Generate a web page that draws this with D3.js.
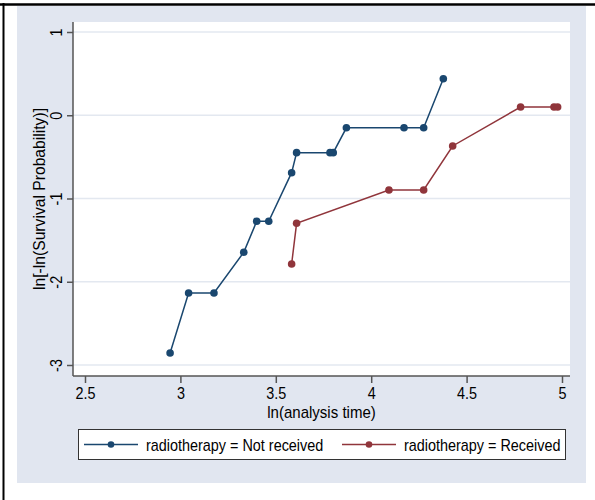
<!DOCTYPE html>
<html>
<head>
<meta charset="utf-8">
<script src="https://cdn.jsdelivr.net/npm/d3@7"></script>
<style>
  body { margin: 0; background: #fff; }
  text { font-family: "Liberation Sans", Arial, sans-serif; fill: #000; }
</style>
</head>
<body>
<div id="chart"></div>
<script>
// data
var xTicks = [2.5, 3, 3.5, 4, 4.5, 5];
var yTicks = [-3, -2, -1, 0, 1];

var notReceivedX = [2.946, 3.043, 3.176, 3.332, 3.400, 3.463, 3.583, 3.609, 3.784, 3.801, 3.870, 4.172, 4.275, 4.378];
var notReceivedY = [-2.856, -2.135, -2.135, -1.646, -1.274, -1.274, -0.690, -0.449, -0.449, -0.449, -0.151, -0.151, -0.151, 0.439];

var receivedX = [3.583, 3.609, 4.093, 4.275, 4.427, 4.783, 4.958, 4.977];
var receivedY = [-1.787, -1.298, -0.898, -0.898, -0.369, 0.099, 0.099, 0.099];

var seriesNames = ["radiotherapy = Not received", "radiotherapy = Received"];
var seriesColors = ["#1a476f", "#90353b"];

var W = 595, H = 500;
var plot = {left: 73, right: 570, top: 22, bottom: 376};
var fontSize = 16;

var svg = d3.select("#chart").append("svg")
    .attr("width", W)
    .attr("height", H);

// outer frame bits
svg.append("rect").attr("x", 17).attr("y", 6).attr("width", 569).attr("height", 477)
    .attr("fill", "#e1e6f0");
svg.append("line").attr("x1", 0).attr("x2", W).attr("y1", 4.5).attr("y2", 4.5)
    .attr("stroke", "#000").attr("stroke-width", 2.5);
svg.append("line").attr("x1", 3.5).attr("x2", 3.5).attr("y1", 3).attr("y2", H)
    .attr("stroke", "#000").attr("stroke-width", 2);

// plot region
svg.append("rect").attr("x", plot.left).attr("y", plot.top)
    .attr("width", plot.right - plot.left).attr("height", plot.bottom - plot.top)
    .attr("fill", "#fff");

var x = d3.scaleLinear().domain([2.5, 5]).range([85, 562]);
var y = d3.scaleLinear().domain([-3, 1]).range([365, 32]);

// gridlines
svg.append("g").selectAll("line")
    .data(yTicks)
    .enter().append("line")
    .attr("x1", plot.left).attr("x2", plot.right)
    .attr("y1", function(d) { return y(d); })
    .attr("y2", function(d) { return y(d); })
    .attr("stroke", "#e3e8f0")
    .attr("stroke-width", 1.5);

// axes (plain hyphen for negatives, like Stata)
var fmt = function(d) { return String(d); };

var xAxis = svg.append("g")
    .attr("transform", "translate(0," + plot.bottom + ")")
    .call(d3.axisBottom(x).tickValues(xTicks).tickSize(7).tickPadding(5).tickFormat(fmt));
xAxis.select(".domain").attr("d", "M" + plot.left + ",0H" + plot.right);
xAxis.selectAll("line, path").attr("stroke", "#555").attr("stroke-width", 1.5);
xAxis.selectAll("text")
    .attr("font-size", fontSize).attr("font-family", "Liberation Sans, Arial, sans-serif").attr("fill", "#000")
    .attr("transform", "scale(0.9,1)");

var yAxis = svg.append("g")
    .attr("transform", "translate(" + plot.left + ",0)")
    .call(d3.axisLeft(y).tickValues(yTicks).tickSize(6).tickPadding(0).tickFormat(fmt));
yAxis.select(".domain").attr("d", "M0," + plot.top + "V" + plot.bottom);
yAxis.selectAll("line, path").attr("stroke", "#555").attr("stroke-width", 1.5);
yAxis.selectAll("text")
    .attr("font-size", fontSize).attr("font-family", "Liberation Sans, Arial, sans-serif").attr("fill", "#000")
    .attr("x", 0).attr("dy", null)
    .attr("text-anchor", "middle")
    .attr("transform", "translate(-11,0) rotate(-90) scale(0.9,1)");

// axis titles
svg.append("text")
    .attr("transform", "translate(" + ((plot.left + plot.right) / 2) + ",418) scale(0.94,1)")
    .attr("text-anchor", "middle")
    .attr("font-size", fontSize)
    .text("ln(analysis time)");

svg.append("text")
    .attr("transform", "translate(45," + ((plot.top + plot.bottom) / 2) + ") rotate(-90) scale(0.98,1)")
    .attr("text-anchor", "middle")
    .attr("font-size", fontSize)
    .text("ln[-ln(Survival Probability)]");

// series
var series = [
  {x: notReceivedX, y: notReceivedY},
  {x: receivedX, y: receivedY}
];

var line = d3.line()
    .x(function(d) { return x(d[0]); })
    .y(function(d) { return y(d[1]); });

series.forEach(function(s, i) {
  var pts = s.x.map(function(v, j) { return [v, s.y[j]]; });
  svg.append("path")
      .datum(pts)
      .attr("d", line)
      .attr("fill", "none")
      .attr("stroke", seriesColors[i])
      .attr("stroke-width", 1.5);
  svg.append("g").selectAll("circle")
      .data(pts)
      .enter().append("circle")
      .attr("cx", function(d) { return x(d[0]); })
      .attr("cy", function(d) { return y(d[1]); })
      .attr("r", 3.8)
      .attr("fill", seriesColors[i]);
});

// legend
var legend = svg.append("g");
legend.append("rect")
    .attr("x", 78.5).attr("y", 429.5).attr("width", 487).attr("height", 30)
    .attr("fill", "#fff").attr("stroke", "#333").attr("stroke-width", 1);

var legendX = [84, 342];
seriesNames.forEach(function(name, i) {
  var lx = legendX[i];
  legend.append("line")
      .attr("x1", lx).attr("x2", lx + 54)
      .attr("y1", 444.5).attr("y2", 444.5)
      .attr("stroke", seriesColors[i]).attr("stroke-width", 1.5);
  legend.append("circle")
      .attr("cx", lx + 27).attr("cy", 444.5).attr("r", 3.3)
      .attr("fill", seriesColors[i]);
  legend.append("text")
      .attr("transform", "translate(" + (lx + 62) + ",450.5) scale(0.9,1)")
      .attr("font-size", fontSize)
      .text(name);
});
</script>
</body>
</html>
